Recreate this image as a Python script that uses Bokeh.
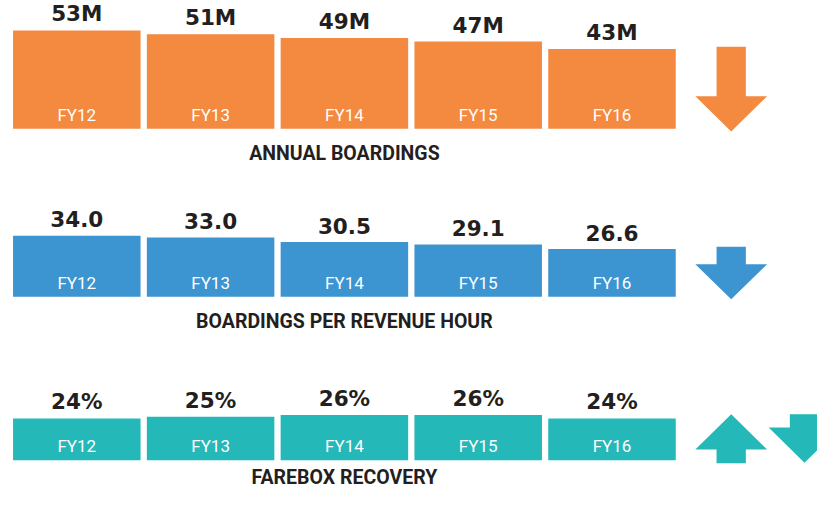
from bokeh.plotting import figure
from bokeh.models import Range1d, ColumnDataSource
from bokeh.core.properties import value
from bokeh.embed import file_html
from bokeh.resources import INLINE

# ---------------- data ----------------
years = ["FY12", "FY13", "FY14", "FY15", "FY16"]
annual_boardings = [53, 51, 49, 47, 43]            # millions
boardings_per_hour = [34.0, 33.0, 30.5, 29.1, 26.6]
farebox_recovery = [24, 25, 26, 26, 24]             # percent
annual_labels = [f"{v}M" for v in annual_boardings]
per_hour_labels = [f"{v:.1f}" for v in boardings_per_hour]
farebox_labels = [f"{v}%" for v in farebox_recovery]
titles = ["ANNUAL BOARDINGS", "BOARDINGS PER REVENUE HOUR", "FAREBOX RECOVERY"]
trends = [["down"], ["down"], ["up", "down"]]

# ---------------- style / layout ----------------
W, H = 817, 491
colors = ["#F38A40", "#3C95D1", "#24B8B8"]
ink = "#231F20"
row_shift = [-6, -7, -12]
baseline_px = [134.3, 303.3, 471.7]      # y of bar bottoms (before shift)
px_per_unit = [1.855, 1.7955, 1.7413]
TXT_FIX = 7.5                            # renderer baseline correction
title_offsets = [32.4, 32.4, 25.0]
bar_center0, bar_pitch = 76.3, 133.8
bar_width = 0.953

# arrow geometry (px): (cx, shaft_end, head_base, tip)
arrow_geom = [
    [(730.7, 52.3, 101.7, 137.0)],
    [(730.7, 253.3, 270.7, 305.7)],
    [(730.7, 474.7, 461.0, 425.7), (804.0, 425.7, 439.0, 474.3)],
]
head_hw, shaft_hw = 35.85, 14.65

x0 = (0 - bar_center0) / bar_pitch
x1 = (W - bar_center0) / bar_pitch

def yr(i):
    base = baseline_px[i] + row_shift[i]
    s = px_per_unit[i]
    return Range1d(-(H - base) / s, base / s)

p = figure(width=W, height=H, x_range=Range1d(x0, x1), y_range=yr(0),
           output_backend="svg", toolbar_location=None, min_border=0,
           x_axis_location=None, y_axis_location=None,
           outline_line_color=None, background_fill_color="white",
           border_fill_color="white")
p.grid.visible = False
p.extra_y_ranges = {"r1": yr(1), "r2": yr(2), "py": Range1d(H, 0)}
p.extra_x_ranges = {"px": Range1d(0, W)}

rows = [annual_boardings, boardings_per_hour, farebox_recovery]
labels = [annual_labels, per_hour_labels, farebox_labels]
rnames = ["default", "r1", "r2"]

for i in range(3):
    src = ColumnDataSource(dict(x=list(range(len(years))), top=rows[i],
                                year=years, lab=labels[i],
                                zero=[0] * len(years)))
    p.vbar(x="x", top="top", bottom=0, width=bar_width, source=src,
           fill_color=colors[i], line_color=None, y_range_name=rnames[i])
    p.text(x="x", y="top", text="lab", source=src, y_range_name=rnames[i],
           text_align="center", text_baseline="alphabetic",
           text_font=value("DejaVu Sans"), text_font_style="bold",
           text_font_size="21.5px", text_color=ink, y_offset=-9 - TXT_FIX)
    p.text(x="x", y="zero", text="year", source=src, y_range_name=rnames[i],
           text_align="center", text_baseline="alphabetic",
           text_font=value("Roboto"),
           text_font_size="17px", text_color="white", y_offset=-6.5 - TXT_FIX)
    p.text(x=[(len(years) - 1) / 2], y=[0], text=[titles[i]],
           y_range_name=rnames[i], text_align="center",
           text_baseline="alphabetic",
           text_font=value("Roboto"), text_font_style="bold",
           text_font_size="19.5px", text_color=ink,
           y_offset=title_offsets[i] - TXT_FIX)
    xs, ys = [], []
    for (cx, se, hb, tip) in arrow_geom[i]:
        d = row_shift[i]
        xs.append([cx - shaft_hw, cx + shaft_hw, cx + shaft_hw, cx + head_hw,
                   cx, cx - head_hw, cx - shaft_hw])
        ys.append([se + d, se + d, hb + d, hb + d, tip + d, hb + d, hb + d])
    p.patches(xs=xs, ys=ys, fill_color=colors[i], line_color=None,
              x_range_name="px", y_range_name="py")

open("out.html", "w").write(file_html(p, INLINE))
